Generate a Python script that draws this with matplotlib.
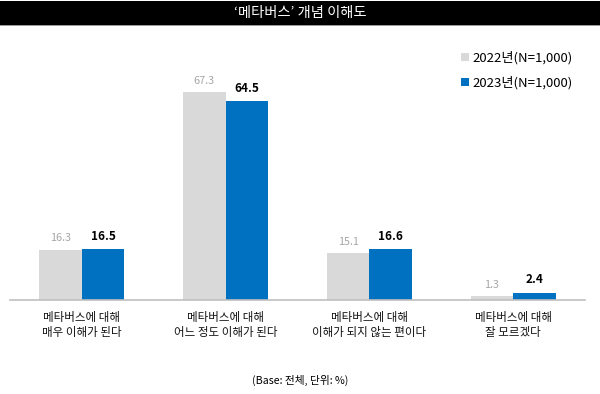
import matplotlib
matplotlib.use("Agg")
import matplotlib.pyplot as plt
from matplotlib.patches import Rectangle
import numpy as np

plt.rcParams['font.family'] = ['Noto Sans CJK KR', 'DejaVu Sans']

categories = ["메타버스에 대해\n매우 이해가 된다", "메타버스에 대해\n어느 정도 이해가 된다",
              "메타버스에 대해\n이해가 되지 않는 편이다", "메타버스에 대해\n잘 모르겠다"]
v2022 = [16.3, 67.3, 15.1, 1.3]
v2023 = [16.5, 64.5, 16.6, 2.4]
series_names = ["2022년(N=1,000)", "2023년(N=1,000)"]
title = "‘메타버스’ 개념 이해도"
note = "(Base: 전체, 단위: %)"

c_gray = "#d9d9d9"
c_blue = "#0070c0"

W, H = 600, 394
fig = plt.figure(figsize=(W/100, H/100), dpi=100)

# title bar
fig.patches.append(Rectangle((0, 1 - 25/H), 1, 24/H, transform=fig.transFigure,
                             facecolor="black", edgecolor="none", zorder=0))
fig.patches.append(Rectangle((0, 1 - 26/H), 1, 1.2/H, transform=fig.transFigure,
                             facecolor="#9a9a9a", edgecolor="none", zorder=0))
fig.text(0.5, 1 - 13/H, title, color="white", ha="center", va="center", fontsize=10.3)

ax_bottom = 300
ax_top = 40
ax = fig.add_axes([10/W, (H - ax_bottom)/H, 575/W, (ax_bottom - ax_top)/H])
ppu = 3.09
ax.set_ylim(0, (ax_bottom - ax_top)/ppu)
ax.set_xlim(-0.5, 3.5)

x = np.arange(len(categories))
bw = 0.295
ax.bar(x - bw/2, v2022, bw, color=c_gray, label=series_names[0])
ax.bar(x + bw/2, v2023, bw, color=c_blue, label=series_names[1])

for xi, a, b in zip(x, v2022, v2023):
    ax.text(xi - bw/2, a + 2.0, f"{a}", ha="center", va="bottom", fontsize=7.8, color="#a6a6a6")
    ax.text(xi + bw/2, b + 2.0, f"{b}", ha="center", va="bottom", fontsize=8.5,
            color="black", fontweight="bold")

for s in ["top", "right", "left"]:
    ax.spines[s].set_visible(False)
ax.spines["bottom"].set_color("#bfbfbf")
ax.spines["bottom"].set_linewidth(1.2)
ax.set_yticks([])
ax.set_xticks(x)
ax.set_xticklabels(categories, fontsize=8.3, linespacing=1.15, color="#111111")
ax.tick_params(axis="x", length=0, pad=8)

leg = ax.legend(loc="upper left", bbox_to_anchor=(446/575, 1 - (46 - ax_top)/(ax_bottom - ax_top)),
                frameon=False, fontsize=9.5, handlelength=0.6, handleheight=0.6,
                handletextpad=0.25, labelspacing=0.85, borderaxespad=0)

fig.text(0.5, 1 - 380/H, note, ha="center", va="center", fontsize=7.7)

fig.savefig("out.png", dpi=100)
